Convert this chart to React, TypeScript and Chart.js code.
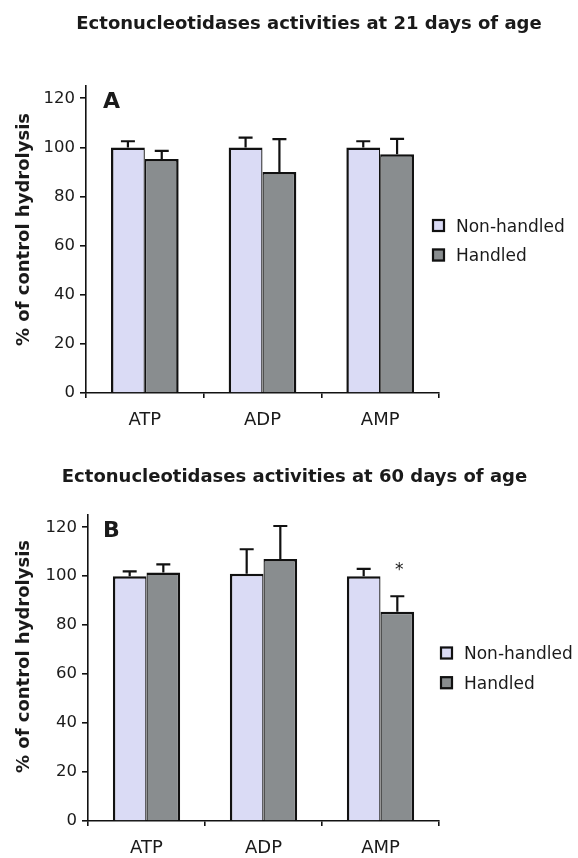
import React, { useEffect, useRef } from 'react';
import { Chart, registerables } from 'chart.js';

Chart.register(...registerables);

// ---------- data ----------
const categories = ['ATP', 'ADP', 'AMP'];
const seriesNames = ['Non-handled', 'Handled'];
const yTickValues = [0, 20, 40, 60, 80, 100, 120];

const nonHandled21 = [100, 100, 100];
const nonHandled21Err = [2.5, 4, 2.5];
const handled21 = [95.3, 90, 97.2];
const handled21Err = [3.3, 13.4, 6.3];
const handled21Marks = ['', '', ''];

const nonHandled60 = [100, 101, 100];
const nonHandled60Err = [2, 10, 3];
const handled60 = [101.5, 107, 85.5];
const handled60Err = [3.3, 13.5, 6.3];
const handled60Marks = ['', '', '*'];

const title21 = 'Ectonucleotidases activities at 21 days of age';
const title60 = 'Ectonucleotidases activities at 60 days of age';
const yAxisTitle = '% of control hydrolysis';

// ---------- styles ----------
const FAMILY = '"DejaVu Sans", "Liberation Sans", sans-serif';
const INK = '#1a1a1a';
const EDGE = '#111111';
const FILLS = ['#dadbf5', '#898d8f'];

interface PanelSpec {
  key: string;
  title: string;
  letter: string;
  nh: number[];
  nhErr: number[];
  h: number[];
  hErr: number[];
  marks: string[];
  top: number;
  height: number;
  titleX: number;
  titleY: number;
  yAxisWidth: number;
  chartTop: number;
  xAxisHeight: number;
  yTitleX: number;
  yTitleCY: number;
  letterX: number;
  letterY: number;
  legendBoxX: number;
  legendYs: number[];
  legendTextX: number;
}

const panels: PanelSpec[] = [
  {
    key: 'a',
    title: title21,
    letter: 'A',
    nh: nonHandled21,
    nhErr: nonHandled21Err,
    h: handled21,
    hErr: handled21Err,
    marks: handled21Marks,
    top: 0,
    height: 440,
    titleX: 309,
    titleY: 29,
    yAxisWidth: 86,
    chartTop: 86,
    xAxisHeight: 47,
    yTitleX: 29,
    yTitleCY: 229.5,
    letterX: 103,
    letterY: 108,
    legendBoxX: 432,
    legendYs: [225.5, 255],
    legendTextX: 456,
  },
  {
    key: 'b',
    title: title60,
    letter: 'B',
    nh: nonHandled60,
    nhErr: nonHandled60Err,
    h: handled60,
    hErr: handled60Err,
    marks: handled60Marks,
    top: 440,
    height: 418,
    titleX: 294.5,
    titleY: 41.7,
    yAxisWidth: 88,
    chartTop: 75,
    xAxisHeight: 37,
    yTitleX: 29,
    yTitleCY: 216.5,
    letterX: 103,
    letterY: 97.3,
    legendBoxX: 440,
    legendYs: [213, 242.7],
    legendTextX: 464,
  },
];

function makeOverlay(p: PanelSpec) {
  return {
    id: 'overlay_' + p.key,
    afterDatasetsDraw(chart: any) {
      const ctx = chart.ctx;
      const ys = chart.scales.y;
      const errs = [p.nhErr, p.hErr];
      ctx.save();
      ctx.strokeStyle = EDGE;
      ctx.lineWidth = 2.2;
      errs.forEach((errArr, di) => {
        const meta = chart.getDatasetMeta(di);
        meta.data.forEach((el: any, i: number) => {
          const v = chart.data.datasets[di].data[i] as number;
          const topPx = ys.getPixelForValue(v + errArr[i]);
          ctx.beginPath();
          ctx.moveTo(el.x, el.y);
          ctx.lineTo(el.x, topPx);
          ctx.moveTo(el.x - 7, topPx);
          ctx.lineTo(el.x + 7, topPx);
          ctx.stroke();
        });
      });
      // significance marks
      const meta1 = chart.getDatasetMeta(1);
      ctx.fillStyle = INK;
      ctx.font = `17px ${FAMILY}`;
      ctx.textAlign = 'center';
      ctx.textBaseline = 'alphabetic';
      p.marks.forEach((m, i) => {
        if (!m) return;
        const el = meta1.data[i];
        const topPx = ys.getPixelForValue(p.h[i] + p.hErr[i]);
        ctx.fillText(m, el.x + 2, topPx - 21);
      });
      ctx.restore();
    },
    afterDraw(chart: any) {
      const ctx = chart.ctx;
      ctx.save();
      ctx.fillStyle = INK;
      // title
      ctx.font = `bold 18px ${FAMILY}`;
      ctx.textAlign = 'center';
      ctx.textBaseline = 'alphabetic';
      ctx.fillText(p.title, p.titleX, p.titleY);
      // panel letter
      ctx.font = `bold 22px ${FAMILY}`;
      ctx.textAlign = 'left';
      ctx.fillText(p.letter, p.letterX, p.letterY);
      // y-axis title
      ctx.save();
      ctx.translate(p.yTitleX, p.yTitleCY);
      ctx.rotate(-Math.PI / 2);
      ctx.font = `bold 18px ${FAMILY}`;
      ctx.textAlign = 'center';
      ctx.textBaseline = 'alphabetic';
      ctx.fillText(yAxisTitle, 0, 0);
      ctx.restore();
      // legend
      ctx.font = `17px ${FAMILY}`;
      ctx.textAlign = 'left';
      ctx.textBaseline = 'alphabetic';
      chart.data.datasets.forEach((ds: any, i: number) => {
        const cy = p.legendYs[i];
        ctx.fillStyle = ds.backgroundColor;
        ctx.fillRect(p.legendBoxX, cy - 6.5, 13, 13);
        ctx.strokeStyle = EDGE;
        ctx.lineWidth = 2.2;
        ctx.strokeRect(p.legendBoxX + 1, cy - 5.5, 11, 11);
        ctx.fillStyle = INK;
        ctx.fillText(ds.label, p.legendTextX, cy + 6);
      });
      ctx.restore();
    },
  };
}

function BarPanel({ spec }: { spec: PanelSpec }) {
  const ref = useRef<HTMLCanvasElement>(null);
  useEffect(() => {
    if (!ref.current) return;
    const axisLine = { display: true, color: EDGE, width: 1.6 };
    const chart = new Chart(ref.current, {
      type: 'bar',
      data: {
        labels: categories,
        datasets: [
          {
            label: seriesNames[0],
            data: spec.nh,
            backgroundColor: FILLS[0],
            borderColor: EDGE,
            borderWidth: { top: 2.5, left: 2.5, right: 1.3, bottom: 0 },
            categoryPercentage: 0.575,
            barPercentage: 1,
          },
          {
            label: seriesNames[1],
            data: spec.h,
            backgroundColor: FILLS[1],
            borderColor: EDGE,
            borderWidth: { top: 2.5, left: 1.3, right: 2.5, bottom: 0 },
            categoryPercentage: 0.575,
            barPercentage: 1,
          },
        ],
      },
      options: {
        responsive: false,
        animation: false,
        devicePixelRatio: 1,
        events: [],
        layout: { padding: { left: 0, right: 139, top: spec.chartTop, bottom: 0 } },
        plugins: {
          legend: { display: false },
          title: { display: false },
          tooltip: { enabled: false },
        },
        scales: {
          x: {
            grid: {
              display: true,
              drawOnChartArea: false,
              drawTicks: true,
              tickLength: 5,
              color: EDGE,
              lineWidth: 1.6,
              offset: true,
            },
            border: axisLine,
            ticks: {
              color: INK,
              font: { family: FAMILY, size: 18 },
              padding: 12,
            },
            afterFit: (s: any) => {
              s.height = spec.xAxisHeight;
            },
          },
          y: {
            min: 0,
            max: 125,
            grid: {
              display: true,
              drawOnChartArea: false,
              drawTicks: true,
              tickLength: 6,
              color: EDGE,
              lineWidth: 1.6,
            },
            border: axisLine,
            ticks: {
              stepSize: 20,
              includeBounds: false,
              color: INK,
              font: { family: FAMILY, size: 16.5 },
              padding: 5,
            },
            afterBuildTicks: (s: any) => {
              s.ticks = yTickValues.map((v) => ({ value: v }));
            },
            afterFit: (s: any) => {
              s.width = spec.yAxisWidth;
            },
          },
        },
      } as any,
      plugins: [makeOverlay(spec)],
    });
    return () => chart.destroy();
  }, [spec]);
  return (
    <canvas
      ref={ref}
      width={578}
      height={spec.height}
      style={{ position: 'absolute', left: 0, top: spec.top, display: 'block' }}
    />
  );
}

export default function App() {
  return (
    <div
      style={{
        position: 'absolute',
        left: 0,
        top: 0,
        width: 578,
        height: 858,
        overflow: 'hidden',
        background: '#ffffff',
      }}
    >
      {panels.map((p) => (
        <BarPanel key={p.key} spec={p} />
      ))}
    </div>
  );
}
